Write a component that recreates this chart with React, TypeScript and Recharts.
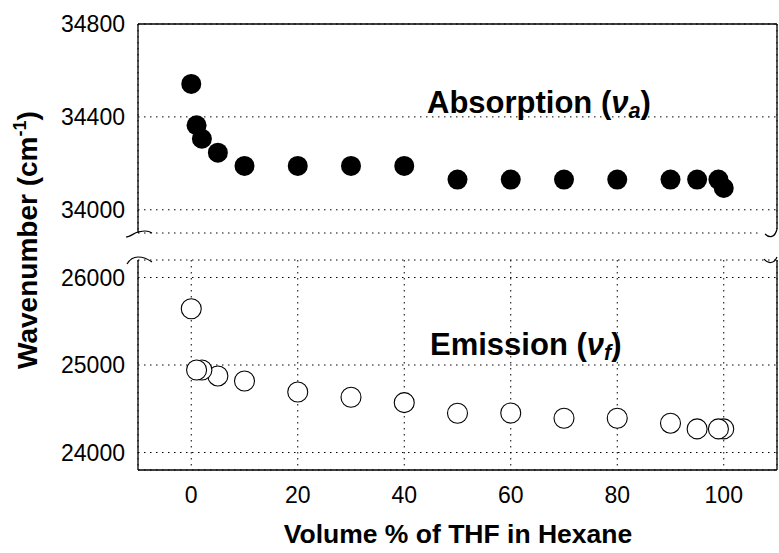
import { ScatterChart, Scatter, XAxis, YAxis, CartesianGrid, ReferenceLine } from "recharts";

// % THF in hexane
const volumePct = [0, 1, 2, 5, 10, 20, 30, 40, 50, 60, 70, 80, 90, 95, 99, 100];
// absorption maximum (cm-1)
const absorption = [
  34542, 34364, 34306, 34246, 34189, 34189, 34189, 34189, 34130, 34130, 34130,
  34130, 34130, 34130, 34130, 34094,
];
// emission maximum (cm-1)
const emission = [
  25643, 24943, 24943, 24875, 24817, 24692, 24631, 24570, 24449, 24452, 24392,
  24392, 24335, 24270, 24270, 24270,
];

const xTicks = [0, 20, 40, 60, 80, 100];
const absTicks = [34000, 34400, 34800];
const emTicks = [24000, 25000, 26000];

const FONT = "'Liberation Sans', Arial, Helvetica, sans-serif";

const absData = volumePct.map((x, i) => ({ x, y: absorption[i] }));
// drawn from high to low % so the lower-% circles sit on top
const emData = volumePct.map((x, i) => ({ x, y: emission[i] })).reverse();

const filledDot = (p: any) => <circle cx={p.cx} cy={p.cy} r={10} fill="#000" />;
const hollowDot = (p: any) => (
  <circle cx={p.cx} cy={p.cy} r={10} fill="#fff" stroke="#000" strokeWidth={1.1} />
);

const tickStyle = { fontSize: 23, fill: "#000", fontFamily: FONT };
const gridDash = "1.5 4.5";
const frame = { stroke: "#000", strokeWidth: 1.3 };

export default function App() {
  return (
    <div style={{ position: "absolute", left: 0, top: 0, width: 779, height: 553, background: "#fff" }}>
      {/* lower panel: emission */}
      <div style={{ position: "absolute", left: 0, top: 0 }}>
        <ScatterChart width={779} height={553} margin={{ top: 260, right: 2, bottom: 0, left: 0 }}>
          <CartesianGrid stroke="#000" strokeDasharray={gridDash} />
          <XAxis
            type="number"
            dataKey="x"
            domain={[-10, 110]}
            ticks={xTicks}
            interval={0}
            height={83}
            tickSize={0}
            tickMargin={17}
            tick={tickStyle}
            axisLine={frame}
            allowDataOverflow
          />
          <YAxis
            type="number"
            dataKey="y"
            domain={[23800, 26200]}
            ticks={emTicks}
            interval={0}
            width={138}
            tickSize={0}
            tickMargin={13}
            tick={tickStyle}
            axisLine={frame}
            allowDataOverflow
          />
          <ReferenceLine x={110} {...frame} />
          <Scatter data={emData} shape={hollowDot} isAnimationActive={false} />
        </ScatterChart>
      </div>

      {/* upper panel: absorption */}
      <div style={{ position: "absolute", left: 0, top: 0 }}>
        <ScatterChart width={779} height={553} margin={{ top: 24, right: 2, bottom: 320, left: 0 }}>
          <CartesianGrid stroke="#000" strokeDasharray={gridDash} />
          <XAxis
            type="number"
            dataKey="x"
            orientation="top"
            domain={[-10, 110]}
            ticks={xTicks}
            interval={0}
            height={0}
            tick={false}
            tickLine={false}
            axisLine={frame}
            allowDataOverflow
          />
          <YAxis
            type="number"
            dataKey="y"
            domain={[33900, 34800]}
            ticks={absTicks}
            interval={0}
            width={138}
            tickSize={0}
            tickMargin={13}
            tick={tickStyle}
            axisLine={frame}
            allowDataOverflow
          />
          <ReferenceLine x={110} {...frame} />
          <ReferenceLine y={34800} {...frame} />
          <Scatter data={absData} shape={filledDot} isAnimationActive={false} />
        </ScatterChart>
      </div>

      {/* axis break marks, titles and annotations */}
      <svg
        width={779}
        height={553}
        style={{ position: "absolute", left: 0, top: 0, pointerEvents: "none" }}
      >
        <rect x={120} y={234} width={40} height={24} fill="#fff" />
        <rect x={760} y={229} width={19} height={29} fill="#fff" />
        <g fill="none" stroke="#000" strokeWidth={1.2}>
          <path d="M126,237 C130,237 134,233 138,232 C143,231 147,230 152,233" />
          <path d="M127,264 C130,259 134,257 138,257 C143,257 148,259 152,262" />
          <path d="M765,234 C769,238 775,238 777,229" />
          <path d="M764,259 C768,264 774,264 777,257" />
        </g>
        <text
          transform="translate(37,240) rotate(-90)"
          textAnchor="middle"
          fontFamily={FONT}
          fontWeight="bold"
          fontSize={28}
          fill="#000"
        >
          Wavenumber (cm
          <tspan fontSize="0.65em" dy={-11}>-1</tspan>
          <tspan dy={11}>)</tspan>
        </text>
        <text x={458} y={543} textAnchor="middle" fontFamily={FONT} fontWeight="bold" fontSize={26.5} fill="#000">
          Volume % of THF in Hexane
        </text>
        <text x={427} y={113} fontFamily={FONT} fontWeight="bold" fontSize={31} fill="#000">
          Absorption (<tspan fontStyle="italic">ν</tspan>
          <tspan fontStyle="italic" fontSize="0.7em" dy={5}>a</tspan>
          <tspan dy={-5}>)</tspan>
        </text>
        <text x={430} y={355} fontFamily={FONT} fontWeight="bold" fontSize={31} fill="#000">
          Emission (<tspan fontStyle="italic">ν</tspan>
          <tspan fontStyle="italic" fontSize="0.7em" dy={5}>f</tspan>
          <tspan dy={-5}>)</tspan>
        </text>
      </svg>
    </div>
  );
}
